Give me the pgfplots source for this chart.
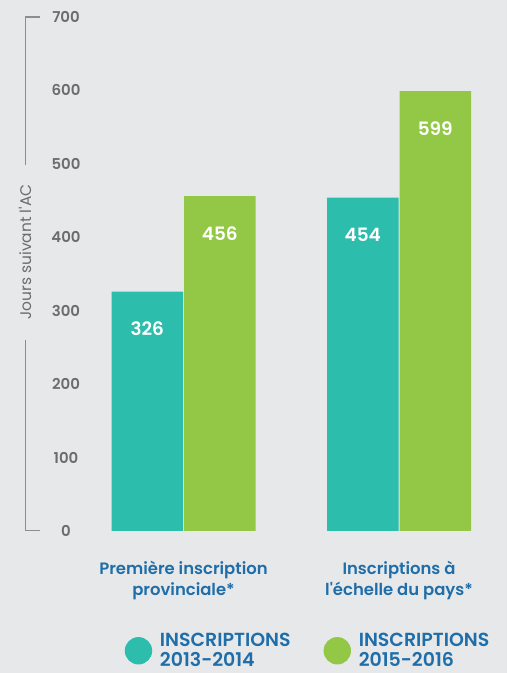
\documentclass[border=0pt]{standalone}
\usepackage{pgfplots}
\pgfplotsset{compat=1.18}
\usepackage{fontspec}
\setmainfont{Poppins}[BoldFont={Poppins SemiBold}]
\definecolor{bg}{HTML}{E7E8EA}
\definecolor{tealc}{HTML}{2DBDAD}
\definecolor{greenc}{HTML}{92C845}
\definecolor{bluec}{HTML}{1F6EA9}
\definecolor{grayt}{HTML}{6B6C6E}
\definecolor{grayl}{HTML}{8C8D8F}
\begin{document}
\begin{tikzpicture}
\fill[bg] (0,0) rectangle (507bp,673bp);
\begin{axis}[
  at={(25bp,142bp)}, anchor=south west,
  scale only axis, width=482bp, height=514bp,
  xmin=-0.7355, xmax=1.501, ymin=0, ymax=700,
  ybar=1bp, bar width=71.5bp,
  axis line style={draw=none},
  major tick length=0pt,
  ytick={0,100,...,700},
  yticklabel style={anchor=center, xshift=41bp, text=grayt, font=\fontsize{15}{18}\selectfont\bfseries},
  /pgf/number format/assume math mode=true,
  xtick={0,1},
  xticklabels={{Première inscription\\provinciale*},{Inscriptions à\\l\textquotesingle échelle du pays*}},
  xticklabel style={align=center, text=bluec, font=\fontsize{16.5}{20.5}\selectfont\bfseries, yshift=-27bp},
  ylabel={Jours suivant l\textquotesingle AC},
  ylabel style={at={(axis description cs:0,0.543)}, anchor=center, text=grayt, font=\fontsize{15.5}{18}\selectfont},
  nodes near coords,
  every node near coord/.append style={anchor=center, yshift=-37bp, text=white, font=\fontsize{18.5}{22}\selectfont\bfseries},
  legend columns=2,
  legend style={at={(axis description cs:0.207,-0.233)}, anchor=west, draw=none, fill=none, inner sep=0pt, outer sep=0pt,
    cells={align=left, text=bluec, font=\fontsize{19}{20.5}\selectfont\bfseries},
    /tikz/every even column/.append style={column sep=31bp}},
  legend image code/.code={\fill (0,0) circle (13.7bp); \path (19.5bp,0);},
]
\addplot[fill=tealc, draw=none] coordinates {(0,326) (1,454)};
\addplot[fill=greenc, draw=none] coordinates {(0,456) (1,599)};
\legend{{INSCRIPTIONS\\2013-2014},{INSCRIPTIONS\\2015-2016}}
\draw[grayl, line width=1.6bp] (axis cs:-0.666,0) -- (axis cs:-0.7355,0) -- (axis cs:-0.7355,260);
\draw[grayl, line width=1.6bp] (axis cs:-0.666,700) -- (axis cs:-0.7355,700) -- (axis cs:-0.7355,498);
\end{axis}
\end{tikzpicture}
\end{document}
